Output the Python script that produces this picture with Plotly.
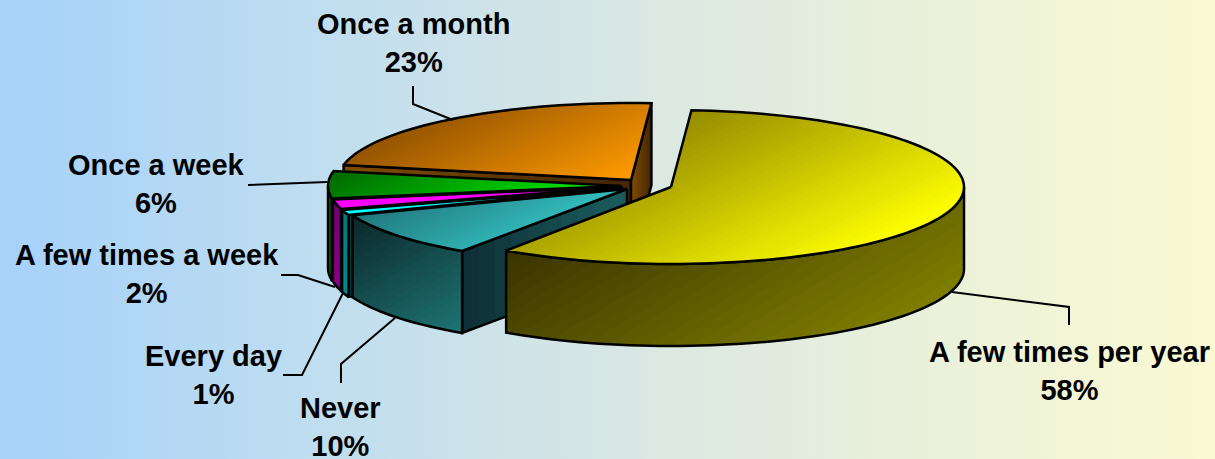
import math
import plotly.graph_objects as go

CATEGORIES = ["A few times per year", "Never", "Every day", "A few times a week", "Once a week", "Once a month"]
VALUES = [58.4, 9.8, 1.1, 2.0, 5.7, 23.0]

W, H = 1215, 459
START = 4.0
RX, DEPTH = 293.0, 82.0
CENTERS = [(671, 187), (627, 189), (623, 188), (622, 187), (621, 186), (631, 180)]
RY_SLICE = [77, 75, 77, 77, 77, 77]
STYLES = [
    dict(top=((150, 140, 0), (255, 255, 0)), wall=((58, 52, 0), (125, 125, 0)), cut=((60, 55, 0), (90, 90, 0))),
    dict(top=((32, 118, 124), (52, 188, 188)), wall=((12, 40, 42), (30, 115, 115)), cut=((14, 48, 54), (26, 92, 92))),
    dict(top=((0, 255, 255), (0, 255, 255)), wall=((0, 120, 125), (0, 140, 145)), cut=((0, 60, 60), (0, 80, 80))),
    dict(top=((255, 0, 255), (255, 0, 255)), wall=((110, 0, 110), (140, 0, 140)), cut=((70, 0, 70), (90, 0, 90))),
    dict(top=((0, 105, 0), (0, 240, 0)), wall=((0, 90, 0), (0, 115, 0)), cut=((0, 60, 0), (0, 80, 0))),
    dict(top=((150, 85, 0), (255, 155, 0)), wall=((70, 40, 0), (120, 70, 0)), cut=((125, 75, 0), (70, 40, 0))),
]
# pieces are painted from the back of the pie to the front
PAINT_ORDER = [5, 4, 3, 2, 1, 0]

LABEL_POS = [(1069, 371), (340, 427), (213, 375), (147, 274), (156, 184), (413, 43)]
LEADERS = [
    [(1069, 325), (1069, 307), (952, 292)],
    [(341, 383), (341, 364), (395, 318)],
    [(283, 375), (302, 375), (343, 293)],
    [(281, 275), (298, 275), (335, 287)],
    [(248, 185), (327, 182)],
    [(413, 86), (413, 104), (453, 120)],
]
BG_STOPS = [[0, "rgb(166,209,250)"], [0.25, "rgb(190,221,240)"], [0.55, "rgb(220,232,226)"], [1, "rgb(250,250,210)"]]

LW = 2.5


def clip_min(poly, d, tmin):
    out = []
    n = len(poly)
    for i in range(n):
        a, b = poly[i], poly[(i + 1) % n]
        ta = a[0] * d[0] + a[1] * d[1]
        tb = b[0] * d[0] + b[1] * d[1]
        if ta >= tmin:
            out.append(a)
        if (ta >= tmin) != (tb >= tmin):
            s = (tmin - ta) / (tb - ta)
            out.append((a[0] + s * (b[0] - a[0]), a[1] + s * (b[1] - a[1])))
    return out


def add_face(fig, poly, colors, direction, bands=18):
    n = math.hypot(*direction)
    d = (direction[0] / n, direction[1] / n)
    ts = [p[0] * d[0] + p[1] * d[1] for p in poly]
    t0, t1 = min(ts), max(ts)
    c0, c1 = colors
    if c0 == c1:
        bands = 1
    for i in range(bands):
        f = i / max(bands - 1, 1)
        col = tuple(round(c0[k] + (c1[k] - c0[k]) * f) for k in range(3))
        part = poly if i == 0 else clip_min(poly, d, t0 + (t1 - t0) * i / bands)
        if len(part) < 3:
            continue
        fig.add_trace(go.Scatter(
            x=[p[0] for p in part] + [part[0][0]], y=[p[1] for p in part] + [part[0][1]],
            mode="lines", fill="toself", fillcolor=f"rgb{col}", line=dict(width=0),
            hoverinfo="skip", showlegend=False))
    closed = poly + [poly[0]]
    fig.add_trace(go.Scatter(
        x=[p[0] for p in closed], y=[p[1] for p in closed], mode="lines",
        line=dict(color="black", width=LW, simplify=False), hoverinfo="skip", showlegend=False))


fig = go.Figure()
fig.add_trace(go.Scatter(
    x=[0, W, W, 0, 0], y=[0, 0, H, H, 0], mode="lines", fill="toself", line=dict(width=0),
    fillgradient=dict(type="horizontal", colorscale=BG_STOPS), hoverinfo="skip", showlegend=False))

total = sum(VALUES)
spans = []
a = START
for v in VALUES:
    spans.append((a, a + v / total * 360))
    a = spans[-1][1]

for idx in PAINT_ORDER:
    a0, a1 = spans[idx]
    cx, cy = CENTERS[idx]
    ry = RY_SLICE[idx]
    st = STYLES[idx]

    def pt(deg, drop=0.0):
        r = math.radians(deg)
        return (cx + RX * math.sin(r), cy - ry * math.cos(r) + drop)

    steps = max(int((a1 - a0) / 2), 2)
    arc = [a0 + (a1 - a0) * i / steps for i in range(steps + 1)]
    apex, apex_low = (cx, cy), (cx, cy + DEPTH)

    # a straight cut face shows only when it turns towards the viewer
    if math.sin(math.radians(a0)) < 0:
        add_face(fig, [apex, pt(a0), pt(a0, DEPTH), apex_low], st["cut"], (1, 0), bands=10)
    if math.sin(math.radians(a1)) > 0:
        add_face(fig, [apex, pt(a1), pt(a1, DEPTH), apex_low], st["cut"], (1, 0), bands=10)

    w0, w1 = max(a0, 90.0), min(a1, 270.0)
    if w1 > w0:
        n = max(int((w1 - w0) / 2), 2)
        wa = [w0 + (w1 - w0) * i / n for i in range(n + 1)]
        poly = [pt(g) for g in wa] + [pt(g, DEPTH) for g in reversed(wa)]
        add_face(fig, poly, st["wall"], (0.6, 1), bands=24)

    top = [apex] + [pt(g) for g in arc]
    add_face(fig, top, st["top"], (1, 2), bands=40)

for pts in LEADERS:
    fig.add_trace(go.Scatter(
        x=[p[0] for p in pts], y=[p[1] for p in pts], mode="lines",
        line=dict(color="black", width=2), hoverinfo="skip", showlegend=False))

annotations = []
for name, val, pos in zip(CATEGORIES, VALUES, LABEL_POS):
    annotations.append(dict(
        x=pos[0], y=pos[1], xref="x", yref="y", showarrow=False, align="center",
        text=f"<b>{name}<br>{round(val)}%</b>",
        font=dict(family="Liberation Sans", size=29, color="black")))

fig.update_layout(
    width=W, height=H, autosize=False, margin=dict(l=0, r=0, t=0, b=0),
    paper_bgcolor="white", plot_bgcolor="white", showlegend=False, annotations=annotations,
    xaxis=dict(range=[0, W], visible=False, fixedrange=True),
    yaxis=dict(range=[H, 0], visible=False, fixedrange=True))

fig.write_html("out.html", config=dict(displayModeBar=False),
               post_script="document.body.style.margin='0';document.body.style.overflow='hidden';")
